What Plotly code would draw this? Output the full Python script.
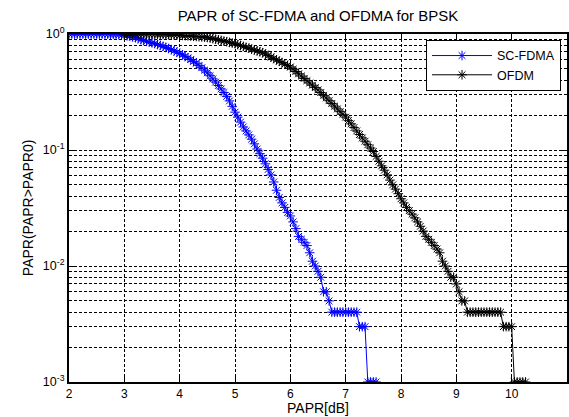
import numpy as np
import plotly.graph_objects as go

# PAPR0 thresholds (dB) and CCDF values
sc_papr0 = [2.00, 2.05, 2.10, 2.15, 2.20, 2.25, 2.30, 2.35, 2.40, 2.45,
            2.50, 2.55, 2.60, 2.65, 2.70, 2.75, 2.80, 2.85, 2.90, 2.95,
            3.00, 3.05, 3.10, 3.15, 3.20, 3.25, 3.30, 3.35, 3.40, 3.45,
            3.50, 3.55, 3.60, 3.65, 3.70, 3.75, 3.80, 3.85, 3.90, 3.95,
            4.00, 4.05, 4.10, 4.15, 4.20, 4.25, 4.30, 4.35, 4.40, 4.45,
            4.50, 4.55, 4.60, 4.65, 4.70, 4.75, 4.80, 4.85, 4.90, 4.95,
            5.00, 5.05, 5.10, 5.15, 5.20, 5.25, 5.30, 5.35, 5.40, 5.45,
            5.50, 5.55, 5.60, 5.65, 5.70, 5.75, 5.80, 5.85, 5.90, 5.95,
            6.00, 6.05, 6.10, 6.15, 6.20, 6.25, 6.30, 6.35, 6.40, 6.45,
            6.50, 6.55, 6.60, 6.65, 6.70, 6.75, 6.80, 6.85, 6.90, 6.95,
            7.00, 7.05, 7.10, 7.15, 7.20, 7.25, 7.30, 7.35, 7.40, 7.45,
            7.50, 7.55]
sc_ccdf = [1.000, 1.000, 1.000, 1.000, 1.000, 1.000, 1.000, 1.000, 1.000, 1.000,
           1.000, 0.999, 0.999, 0.998, 0.997, 0.995, 0.993, 0.990, 0.986, 0.981,
           0.975, 0.965, 0.955, 0.943, 0.930, 0.915, 0.895, 0.878, 0.865, 0.852,
           0.840, 0.827, 0.813, 0.798, 0.783, 0.767, 0.750, 0.733, 0.716, 0.698,
           0.680, 0.661, 0.642, 0.622, 0.602, 0.581, 0.560, 0.536, 0.512, 0.488,
           0.463, 0.437, 0.410, 0.385, 0.360, 0.336, 0.313, 0.290, 0.265, 0.238,
           0.212, 0.192, 0.174, 0.158, 0.146, 0.135, 0.124, 0.113, 0.102, 0.093,
           0.085, 0.076, 0.068, 0.061, 0.053, 0.045, 0.039, 0.035, 0.032, 0.029,
           0.027, 0.024, 0.021, 0.018, 0.017, 0.016, 0.015, 0.013, 0.011, 0.010,
           0.009, 0.008, 0.006, 0.006, 0.005, 0.004, 0.004, 0.004, 0.004, 0.004,
           0.004, 0.004, 0.004, 0.004, 0.004, 0.003, 0.003, 0.003, 0.001, 0.001,
           0.001, 0.001]

ofdm_papr0 = [3.00, 3.05, 3.10, 3.15, 3.20, 3.25, 3.30, 3.35, 3.40, 3.45,
              3.50, 3.55, 3.60, 3.65, 3.70, 3.75, 3.80, 3.85, 3.90, 3.95,
              4.00, 4.05, 4.10, 4.15, 4.20, 4.25, 4.30, 4.35, 4.40, 4.45,
              4.50, 4.55, 4.60, 4.65, 4.70, 4.75, 4.80, 4.85, 4.90, 4.95,
              5.00, 5.05, 5.10, 5.15, 5.20, 5.25, 5.30, 5.35, 5.40, 5.45,
              5.50, 5.55, 5.60, 5.65, 5.70, 5.75, 5.80, 5.85, 5.90, 5.95,
              6.00, 6.05, 6.10, 6.15, 6.20, 6.25, 6.30, 6.35, 6.40, 6.45,
              6.50, 6.55, 6.60, 6.65, 6.70, 6.75, 6.80, 6.85, 6.90, 6.95,
              7.00, 7.05, 7.10, 7.15, 7.20, 7.25, 7.30, 7.35, 7.40, 7.45,
              7.50, 7.55, 7.60, 7.65, 7.70, 7.75, 7.80, 7.85, 7.90, 7.95,
              8.00, 8.05, 8.10, 8.15, 8.20, 8.25, 8.30, 8.35, 8.40, 8.45,
              8.50, 8.55, 8.60, 8.65, 8.70, 8.75, 8.80, 8.85, 8.90, 8.95,
              9.00, 9.05, 9.10, 9.15, 9.20, 9.25, 9.30, 9.35, 9.40, 9.45,
              9.50, 9.55, 9.60, 9.65, 9.70, 9.75, 9.80, 9.85, 9.90, 9.95,
              10.00, 10.05, 10.10, 10.15, 10.20, 10.25]
ofdm_ccdf = [1.000, 1.000, 1.000, 0.999, 0.999, 0.999, 0.998, 0.998, 0.997, 0.996,
             0.995, 0.994, 0.993, 0.991, 0.989, 0.987, 0.985, 0.983, 0.980, 0.978,
             0.975, 0.972, 0.968, 0.964, 0.960, 0.956, 0.952, 0.948, 0.944, 0.940,
             0.935, 0.924, 0.913, 0.902, 0.891, 0.880, 0.869, 0.858, 0.847, 0.836,
             0.825, 0.810, 0.796, 0.782, 0.768, 0.754, 0.741, 0.728, 0.715, 0.702,
             0.690, 0.671, 0.652, 0.634, 0.616, 0.599, 0.582, 0.566, 0.550, 0.535,
             0.520, 0.497, 0.475, 0.454, 0.434, 0.414, 0.396, 0.378, 0.362, 0.345,
             0.330, 0.313, 0.296, 0.281, 0.266, 0.252, 0.239, 0.226, 0.214, 0.203,
             0.192, 0.179, 0.168, 0.156, 0.146, 0.136, 0.127, 0.119, 0.111, 0.104,
             0.097, 0.088, 0.080, 0.073, 0.067, 0.061, 0.055, 0.050, 0.046, 0.042,
             0.038, 0.035, 0.032, 0.030, 0.028, 0.026, 0.024, 0.022, 0.020, 0.018,
             0.017, 0.016, 0.015, 0.014, 0.013, 0.011, 0.010, 0.009, 0.008, 0.008,
             0.007, 0.006, 0.005, 0.005, 0.004, 0.004, 0.004, 0.004, 0.004, 0.004,
             0.004, 0.004, 0.004, 0.004, 0.004, 0.004, 0.004, 0.003, 0.003, 0.003,
             0.003, 0.001, 0.001, 0.001, 0.001, 0.001]

x_ticks = [2, 3, 4, 5, 6, 7, 8, 9, 10, 11]
y_tickvals = [1e-3, 1e-2, 1e-1, 1]
y_ticktext = ["10<sup>-3</sup>", "10<sup>-2</sup>", "10<sup>-1</sup>", "10<sup>0</sup>"]

FONT = "Liberation Sans, Arial, Helvetica, sans-serif"

fig = go.Figure()
fig.add_trace(go.Scatter(
    x=sc_papr0, y=sc_ccdf, name="SC-FDMA", mode="lines+markers",
    line=dict(color="#0000FF", width=1),
    marker=dict(symbol="asterisk-open", size=8, color="#0000FF",
                line=dict(color="#0000FF", width=1)),
))
fig.add_trace(go.Scatter(
    x=ofdm_papr0, y=ofdm_ccdf, name="OFDM", mode="lines+markers",
    line=dict(color="#000000", width=1),
    marker=dict(symbol="asterisk-open", size=8, color="#000000",
                line=dict(color="#000000", width=1)),
))

grid_style = dict(showgrid=True, gridcolor="#000000", gridwidth=1, griddash="3px,2px")

fig.update_layout(
    width=569, height=417,
    margin=dict(l=69, r=0, t=34, b=35),
    paper_bgcolor="white", plot_bgcolor="white",
    font=dict(family=FONT, size=13, color="black"),
    title=dict(text="PAPR of SC-FDMA and OFDMA for BPSK", x=0.5, xref="paper",
               y=1 - 16 / 417, yref="container", yanchor="middle",
               font=dict(size=15, family=FONT, color="black")),
    showlegend=True,
    legend=dict(x=0.988, xanchor="right", y=0.983, yanchor="top",
                bordercolor="black", borderwidth=1, bgcolor="white",
                font=dict(size=12.5, family=FONT), tracegroupgap=0,
                itemwidth=60),
    xaxis=dict(range=[2, 11], tickvals=x_ticks, ticks="inside", ticklen=5,
               tickcolor="black", showline=True, linecolor="black", linewidth=2,
               mirror="ticks", zeroline=False,
               tickfont=dict(size=12), **grid_style),
    yaxis=dict(type="log", range=[-3, 0], tickvals=y_tickvals, ticktext=y_ticktext,
               ticks="inside", ticklen=5, tickcolor="black",
               showline=True, linecolor="black", linewidth=2, mirror="ticks",
               zeroline=False,
               tickfont=dict(size=12.5),
               minor=dict(dtick="D1", showgrid=True, gridcolor="#000000",
                          gridwidth=1, griddash="3px,2px", ticks="inside",
                          ticklen=3, tickcolor="black"),
               **grid_style),
    annotations=[
        dict(text="PAPR[dB]", xref="paper", yref="paper", x=0.5, y=-0.1,
             xanchor="center", yanchor="bottom", showarrow=False, borderpad=0,
             font=dict(size=14, family=FONT, color="black")),
        dict(text="PAPR(PAPR>PAPR0)", xref="paper", yref="paper", x=-0.082, y=0.5,
             xanchor="center", yanchor="middle", textangle=-90, showarrow=False,
             font=dict(size=14, family=FONT, color="black")),
    ],
)

fig.write_html("out.html")
